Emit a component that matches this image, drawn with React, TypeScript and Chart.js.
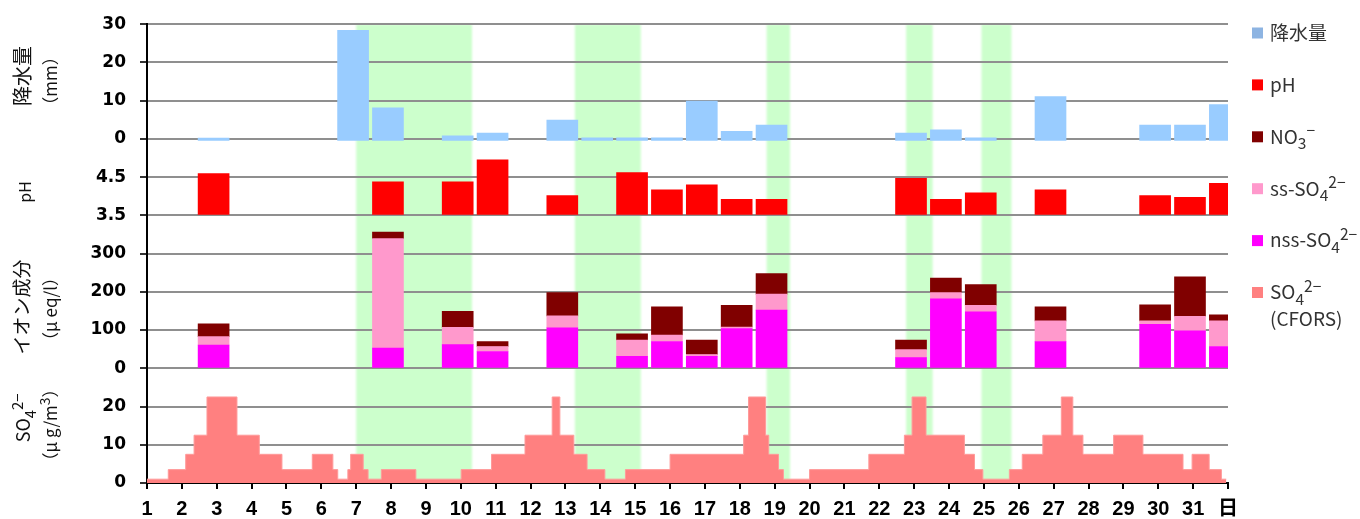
import React, { useEffect, useRef } from 'react';
import { Chart, registerables } from 'chart.js';

Chart.register(...registerables);

// ---------------- data ----------------
const dayTickLabels = ['1','2','3','4','5','6','7','8','9','10','11','12','13','14','15','16','17','18','19','20','21','22','23','24','25','26','27','28','29','30','31','日'];

const rainDays = [3, 7, 8, 10, 11, 13, 14, 15, 16, 17, 18, 19, 23, 24, 25, 27, 30, 31, 32];
const rainMm = [0.2, 28.4, 8.1, 0.8, 1.5, 4.9, 0.3, 0.3, 0.3, 9.9, 2.0, 3.6, 1.5, 2.4, 0.3, 11.1, 3.6, 3.6, 9.0];

const phDays = [3, 8, 10, 11, 13, 15, 16, 17, 18, 19, 23, 24, 25, 27, 30, 31, 32];
const phValues = [4.59, 4.38, 4.38, 4.95, 4.02, 4.62, 4.17, 4.30, 3.92, 3.92, 4.47, 3.92, 4.09, 4.17, 4.02, 3.97, 4.34];

const ionDays = [3, 8, 10, 11, 13, 15, 16, 17, 18, 19, 23, 24, 25, 27, 30, 31, 32];
const nssSO4 = [61, 53, 62, 44, 106, 31, 70, 31, 104, 152, 28, 182, 148, 70, 115, 98, 57];
const ssSO4 = [22, 286, 45, 13, 31, 43, 17, 5, 4, 42, 21, 16, 17, 54, 9, 38, 67];
const no3 = [33, 17, 42, 13, 61, 16, 74, 38, 57, 54, 25, 38, 54, 37, 42, 103, 16];

// CFORS SO4 2- : level starting at each time (day)
const cforsTimes = [1, 1.61, 2.11, 2.35, 2.72, 3.58, 4.22, 4.87, 5.74, 6.33, 6.47, 6.76, 6.84, 7.2, 7.34, 7.72, 8.71, 10.01, 10.88, 11.84, 12.62, 12.84, 13.24, 13.62, 14.13, 14.72, 16.0, 18.11, 18.25, 18.74, 18.83, 19.11, 19.25, 20.0, 21.7, 22.72, 22.94, 23.34, 24.44, 24.73, 24.97, 25.73, 26.1, 26.69, 27.22, 27.55, 27.84, 28.72, 29.56, 30.71, 30.97, 31.46, 31.81, 31.95];
const cforsLevels = [1, 3.5, 7.5, 12.5, 22.5, 12.5, 7.5, 3.5, 7.5, 3.5, 1, 3.5, 7.5, 3.5, 1, 3.5, 1, 3.5, 7.5, 12.5, 22.5, 12.5, 7.5, 3.5, 1, 3.5, 7.5, 12.5, 22.5, 12.5, 7.5, 3.5, 1, 3.5, 7.5, 12.5, 22.5, 12.5, 7.5, 3.5, 1, 3.5, 7.5, 12.5, 22.5, 12.5, 7.5, 12.5, 7.5, 3.5, 7.5, 3.5, 1, 1];

// highlighted periods (days)
const bandStart = [7.0, 13.27, 18.77, 22.77, 24.93];
const bandEnd = [10.32, 15.16, 19.44, 23.53, 25.79];

// axis ticks
const rainTicks = [0, 10, 20, 30];
const phTicks = [3.5, 4.5];
const ionTicks = [0, 100, 200, 300];
const so4Ticks = [0, 10, 20];

// ---------------- styles ----------------
const C_RAIN = '#99CCFF';
const C_RAIN_LEG = '#8DB4E2';
const C_PH = '#FF0000';
const C_NO3 = '#800000';
const C_SS = '#FF99CC';
const C_NSS = '#FF00FF';
const C_CFORS = '#FF8080';
const C_BAND = '#CCFFCC';
const BAR_SHIFT = -0.09;
const BAR_W = 31;
const JP = "'Noto Sans CJK JP', 'Noto Sans', sans-serif";

type Seg = { t: string; k?: 'sub' | 'sup' };

function segFont(size: number, k: string | undefined, family: string, weight: string) {
  const s = k ? size * 0.82 : size;
  return `${weight} ${s}px ${family}`;
}
function richWidth(ctx: CanvasRenderingContext2D, segs: Seg[], size: number, family: string, weight: string) {
  let w = 0;
  for (const sg of segs) {
    ctx.font = segFont(size, sg.k, family, weight);
    w += ctx.measureText(sg.t).width;
  }
  return w;
}
function drawRich(ctx: CanvasRenderingContext2D, segs: Seg[], x: number, yMid: number, size: number, family: string, weight: string, align: 'left' | 'center') {
  const w = richWidth(ctx, segs, size, family, weight);
  let cx = align === 'center' ? x - w / 2 : x;
  const baseY = yMid + size * 0.36;
  ctx.textAlign = 'left';
  ctx.textBaseline = 'alphabetic';
  for (const sg of segs) {
    ctx.font = segFont(size, sg.k, family, weight);
    const dy = sg.k === 'sub' ? size * 0.28 : sg.k === 'sup' ? -size * 0.4 : 0;
    ctx.fillText(sg.t, cx, baseY + dy);
    cx += ctx.measureText(sg.t).width;
  }
}

const axisTitles: { segs: Seg[]; cx: number; cy: number; size: number }[] = [
  { segs: [{ t: '降水量' }], cx: 22.5, cy: 76, size: 20 },
  { segs: [{ t: '（mm）' }], cx: 51, cy: 81, size: 17 },
  { segs: [{ t: 'pH' }], cx: 25, cy: 192, size: 16 },
  { segs: [{ t: 'イオン成分' }], cx: 22, cy: 307, size: 19 },
  { segs: [{ t: '（μ eq/l）' }], cx: 51, cy: 309, size: 17 },
  { segs: [{ t: 'SO' }, { t: '4', k: 'sub' }, { t: '2−', k: 'sup' }], cx: 24, cy: 418, size: 18 },
  { segs: [{ t: '（μ g/m' }, { t: '3', k: 'sup' }, { t: '）' }], cx: 51, cy: 425, size: 17 },
];

const legendItems: { color: string; lines: Seg[][] }[] = [
  { color: C_RAIN_LEG, lines: [[{ t: '降水量' }]] },
  { color: C_PH, lines: [[{ t: 'pH' }]] },
  { color: C_NO3, lines: [[{ t: 'NO' }, { t: '3', k: 'sub' }, { t: '−', k: 'sup' }]] },
  { color: C_SS, lines: [[{ t: 'ss-SO' }, { t: '4', k: 'sub' }, { t: '2−', k: 'sup' }]] },
  { color: C_NSS, lines: [[{ t: 'nss-SO' }, { t: '4', k: 'sub' }, { t: '2−', k: 'sup' }]] },
  { color: C_CFORS, lines: [[{ t: 'SO' }, { t: '4', k: 'sub' }, { t: '2−', k: 'sup' }], [{ t: '(CFORS)' }]] },
];
const LEG_X = 1252;
const LEG_Y0 = 33;
const LEG_DY = 51.9;

const bandsPlugin = {
  id: 'bands',
  beforeDraw(chart: any) {
    const { ctx, chartArea, scales } = chart;
    const x = scales.x;
    ctx.save();
    ctx.fillStyle = '#FFFFFF';
    ctx.fillRect(0, 0, chart.width, chart.height);
    ctx.fillStyle = C_BAND;
    ctx.filter = 'blur(1px)';
    bandStart.forEach((s, i) => {
      const x0 = x.getPixelForValue(s);
      const x1 = x.getPixelForValue(bandEnd[i]);
      ctx.fillRect(x0, chartArea.top, x1 - x0, chartArea.bottom - chartArea.top);
    });
    ctx.restore();
  },
};

const textPlugin = {
  id: 'texts',
  afterDraw(chart: any) {
    const ctx: CanvasRenderingContext2D = chart.ctx;
    ctx.save();
    ctx.fillStyle = '#111';
    for (const t of axisTitles) {
      ctx.save();
      ctx.translate(t.cx, t.cy);
      ctx.rotate(-Math.PI / 2);
      drawRich(ctx, t.segs, 0, 0, t.size, JP, '400', 'center');
      ctx.restore();
    }
    legendItems.forEach((it, i) => {
      const cy = LEG_Y0 + i * LEG_DY;
      ctx.fillStyle = it.color;
      ctx.fillRect(LEG_X, cy - 5.5, 11, 11);
      ctx.fillStyle = '#333';
      it.lines.forEach((ln, j) => {
        drawRich(ctx, ln, LEG_X + 18, cy + j * 27, 19, JP, '400', 'left');
      });
    });
    ctx.restore();
  },
};

function yAxis(min: number, max: number, weight: number, tickVals: number[], fmt: (v: number) => string) {
  return {
    type: 'linear',
    position: 'left',
    stack: 'panels',
    stackWeight: weight,
    min,
    max,
    afterBuildTicks: (s: any) => {
      s.ticks = tickVals.map((v) => ({ value: v }));
    },
    afterFit: (s: any) => {
      s.width = 147;
    },
    grid: { color: '#8f8f8f', lineWidth: 2, tickLength: 7, tickColor: '#333', drawTicks: true },
    border: { display: true, color: '#000', width: 2 },
    ticks: {
      color: '#000',
      padding: 14,
      font: { family: "'DejaVu Sans'", weight: 'bold', size: 17 },
      callback: (v: any) => fmt(Number(v)),
    },
  };
}

export default function App() {
  const ref = useRef<HTMLCanvasElement>(null);
  useEffect(() => {
    const canvas = ref.current;
    if (!canvas) return;
    const barCommon = { type: 'bar', grouped: false, barThickness: BAR_W, borderWidth: 0 };
    const chart = new Chart(canvas, {
      type: 'line',
      data: {
        datasets: [
          {
            ...barCommon,
            label: '降水量',
            yAxisID: 'yRain',
            base: -0.4,
            backgroundColor: C_RAIN,
            data: rainDays.map((d, i) => ({ x: d + BAR_SHIFT, y: rainMm[i] })),
          },
          {
            ...barCommon,
            label: 'pH',
            yAxisID: 'yPh',
            base: 3.5,
            backgroundColor: C_PH,
            data: phDays.map((d, i) => ({ x: d + BAR_SHIFT, y: phValues[i] })),
          },
          {
            ...barCommon,
            label: 'nss-SO4',
            yAxisID: 'yIon',
            backgroundColor: C_NSS,
            data: ionDays.map((d, i) => ({ x: d + BAR_SHIFT, y: nssSO4[i] })),
          },
          {
            ...barCommon,
            label: 'ss-SO4',
            yAxisID: 'yIon',
            backgroundColor: C_SS,
            data: ionDays.map((d, i) => ({ x: d + BAR_SHIFT, y: ssSO4[i] })),
          },
          {
            ...barCommon,
            label: 'NO3',
            yAxisID: 'yIon',
            backgroundColor: C_NO3,
            data: ionDays.map((d, i) => ({ x: d + BAR_SHIFT, y: no3[i] })),
          },
          {
            type: 'line',
            label: 'SO4 CFORS',
            yAxisID: 'ySo4',
            stepped: true,
            fill: 'origin',
            backgroundColor: C_CFORS,
            borderColor: '#FF9A9A',
            borderWidth: 1,
            pointRadius: 0,
            tension: 0,
            data: cforsTimes.map((t, i) => ({ x: t, y: cforsLevels[i] })),
          },
        ] as any,
      },
      options: {
        responsive: false,
        animation: false,
        devicePixelRatio: 1,
        layout: { padding: { left: 0, right: 132, top: 22, bottom: 0 } },
        plugins: { legend: { display: false }, tooltip: { enabled: false } },
        events: [],
        scales: {
          x: {
            type: 'linear',
            min: 1,
            max: 32,
            offset: false,
            afterBuildTicks: (s: any) => {
              s.ticks = dayTickLabels.map((_, i) => ({ value: i + 1 }));
            },
            afterFit: (s: any) => {
              s.height = 36;
            },
            grid: { drawOnChartArea: false, drawTicks: true, tickLength: 6, tickColor: '#000', lineWidth: 2, offset: false },
            border: { display: true, color: '#000', width: 2 },
            ticks: {
              autoSkip: false,
              maxRotation: 0,
              minRotation: 0,
              color: '#000',
              padding: 8,
              font: { family: "'Liberation Sans', 'Noto Sans CJK JP'", weight: 'bold', size: 20 },
              callback: (_v: any, i: number) => dayTickLabels[i],
            },
          },
          // stacked panels are laid out bottom-up in key order
          ySo4: yAxis(0, 30, 3, so4Ticks, (v) => String(v)),
          yIon: { ...yAxis(0, 400, 4, ionTicks, (v) => String(v)), stacked: true },
          yPh: yAxis(3.5, 5.0, 1.5, phTicks, (v) => v.toFixed(1)),
          yRain: yAxis(-5, 30, 3.5, rainTicks, (v) => String(v)),
        } as any,
      },
      plugins: [bandsPlugin, textPlugin],
    } as any);
    return () => chart.destroy();
  }, []);
  return (
    <div style={{ position: 'fixed', left: 0, top: 0, width: 1360, height: 519, background: '#fff' }}>
      <canvas ref={ref} width={1360} height={519} style={{ display: 'block', width: 1360, height: 519 }} />
    </div>
  );
}
